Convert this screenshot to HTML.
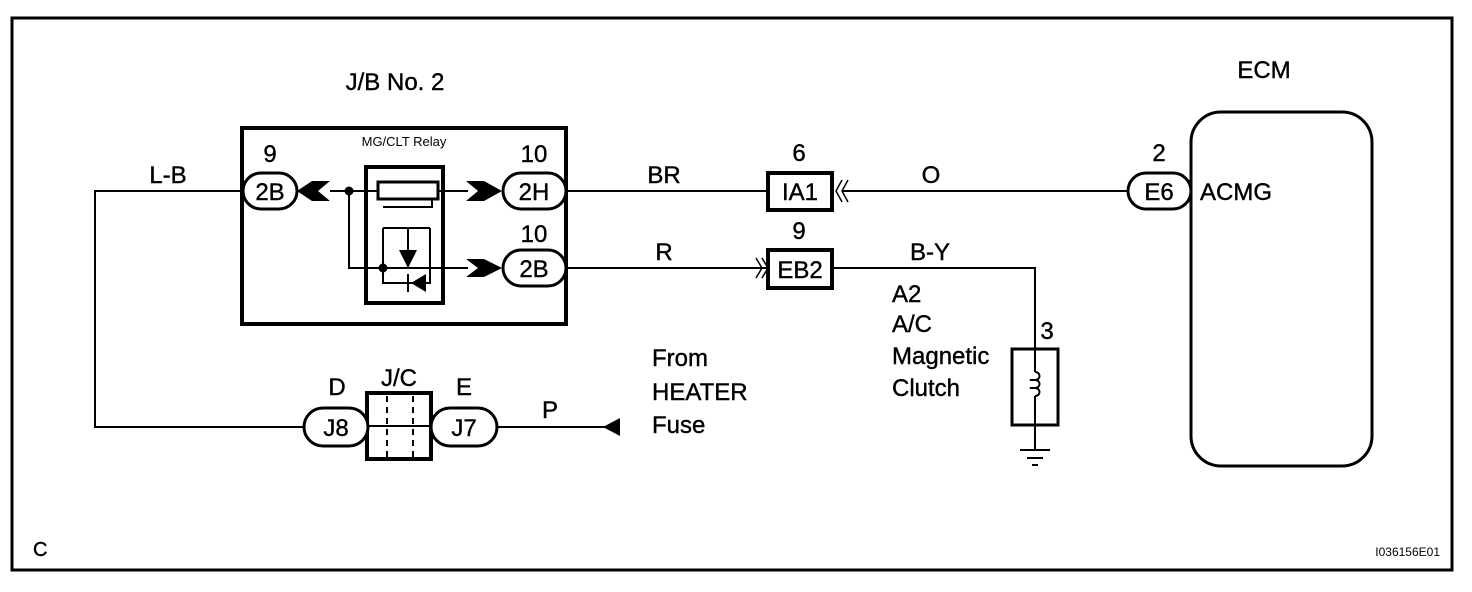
<!DOCTYPE html>
<html><head><style>html,body{margin:0;padding:0;background:#fff}svg{display:block}</style></head>
<body>
<svg width="1472" height="592" viewBox="0 0 1472 592" xmlns="http://www.w3.org/2000/svg" font-family="Liberation Sans, Arial, sans-serif" fill="none" stroke="#000">
<rect x="12" y="18" width="1440" height="552" stroke-width="3"/>
<rect x="242" y="128" width="324" height="196" stroke-width="4"/>
<rect x="366" y="167" width="77" height="136" stroke-width="4"/>
<polyline points="243,191 95,191 95,427 304,427" stroke-width="2"/>
<line x1="330" y1="191" x2="377" y2="191" stroke-width="2"/>
<line x1="438" y1="191" x2="468" y2="191" stroke-width="2"/>
<rect x="378" y="182" width="60" height="17" stroke-width="3"/>
<polyline points="383,207 432,207 432,199" stroke-width="2"/>
<circle cx="349" cy="191" r="4" fill="#000"/>
<polyline points="349,191 349,268 468,268" stroke-width="2"/>
<circle cx="383" cy="268" r="4" fill="#000"/>
<polyline points="383,228 383,283 430,283 430,228" stroke-width="2"/>
<line x1="383" y1="228" x2="430" y2="228" stroke-width="2"/>
<line x1="408" y1="228" x2="408" y2="250" stroke-width="2"/>
<polygon points="399,250 417,250 408,268" fill="#000" stroke="none"/>
<polygon points="426,274 426,292 411,283" fill="#000" stroke="none"/>
<line x1="408" y1="274" x2="408" y2="292" stroke-width="2"/>
<polygon points="297,191 312,181 330,181 318,191 330,201 312,201" fill="#000" stroke="none"/>
<polygon points="466,181 484,181 502,191 484,201 466,201 478,191" fill="#000" stroke="none"/>
<polygon points="466,259 484,259 502,268 484,277 466,277 478,268" fill="#000" stroke="none"/>
<rect x="243" y="173" width="54" height="36" rx="18" fill="#fff" stroke-width="3"/>
<rect x="503" y="173" width="63" height="36" rx="18" fill="#fff" stroke-width="3"/>
<rect x="503" y="250" width="63" height="36" rx="18" fill="#fff" stroke-width="3"/>
<line x1="566" y1="191" x2="768" y2="191" stroke-width="2"/>
<line x1="566" y1="268" x2="766" y2="268" stroke-width="2"/>
<rect x="768" y="173" width="64" height="37" stroke-width="4"/>
<polyline points="842,180 836,191 842,202" stroke-width="1.5"/>
<polyline points="848,180 842,191 848,202" stroke-width="1.5"/>
<line x1="842" y1="191" x2="1128" y2="191" stroke-width="2"/>
<rect x="768" y="250" width="64" height="38" stroke-width="4"/>
<polyline points="756,258 762,268 756,278" stroke-width="1.5"/>
<polyline points="762,258 768,268 762,278" stroke-width="1.5"/>
<polyline points="832,268 1035,268 1035,349" stroke-width="2"/>
<rect x="1012" y="349" width="46" height="76" stroke-width="3"/>
<line x1="1035" y1="349" x2="1035" y2="372" stroke-width="2"/>
<path d="M1035,372 c6,0 6,8 0,8 c-6,0 -6,0 0,0 c6,0 6,8 0,8 c-6,0 -6,0 0,0 c6,0 6,8 0,8" stroke-width="2"/>
<line x1="1035" y1="396" x2="1035" y2="450" stroke-width="2"/>
<line x1="1020" y1="450" x2="1050" y2="450" stroke-width="2"/>
<line x1="1027" y1="458" x2="1043" y2="458" stroke-width="2"/>
<line x1="1032" y1="465" x2="1038" y2="465" stroke-width="2"/>
<rect x="1191" y="112" width="181" height="354" rx="30" stroke-width="3"/>
<rect x="1128" y="173" width="63" height="36" rx="18" fill="#fff" stroke-width="3"/>
<rect x="367" y="393" width="64" height="66" stroke-width="4"/>
<line x1="367" y1="426" x2="431" y2="426" stroke-width="2"/>
<line x1="387" y1="396" x2="387" y2="457" stroke-width="2" stroke-dasharray="6,5"/>
<line x1="413" y1="396" x2="413" y2="457" stroke-width="2" stroke-dasharray="6,5"/>
<rect x="304" y="408" width="64" height="38" rx="19" fill="#fff" stroke-width="3"/>
<rect x="431" y="408" width="66" height="38" rx="19" fill="#fff" stroke-width="3"/>
<line x1="497" y1="427" x2="620" y2="427" stroke-width="2"/>
<polygon points="603,427 620,418 620,436" fill="#000" stroke="none"/>
<g fill="#000" stroke="#000" stroke-width="0.4" font-size="24">
<text x="395" y="90" text-anchor="middle">J/B No. 2</text>
<text x="404" y="146" text-anchor="middle" font-size="13" stroke="none">MG/CLT Relay</text>
<text x="270" y="162" text-anchor="middle">9</text>
<text x="270" y="200" text-anchor="middle">2B</text>
<text x="534" y="162" text-anchor="middle">10</text>
<text x="534" y="200" text-anchor="middle">2H</text>
<text x="534" y="242" text-anchor="middle">10</text>
<text x="534" y="277" text-anchor="middle">2B</text>
<text x="168" y="183" text-anchor="middle">L-B</text>
<text x="664" y="183" text-anchor="middle">BR</text>
<text x="664" y="260" text-anchor="middle">R</text>
<text x="799" y="161" text-anchor="middle">6</text>
<text x="800" y="200" text-anchor="middle">IA1</text>
<text x="799" y="239" text-anchor="middle">9</text>
<text x="800" y="278" text-anchor="middle">EB2</text>
<text x="931" y="183" text-anchor="middle">O</text>
<text x="930" y="260" text-anchor="middle">B-Y</text>
<text x="892" y="302">A2</text>
<text x="892" y="332">A/C</text>
<text x="892" y="364">Magnetic</text>
<text x="892" y="396">Clutch</text>
<text x="1047" y="339" text-anchor="middle">3</text>
<text x="1159" y="161" text-anchor="middle">2</text>
<text x="1159" y="200" text-anchor="middle">E6</text>
<text x="1200" y="200">ACMG</text>
<text x="1264" y="78" text-anchor="middle">ECM</text>
<text x="337" y="395" text-anchor="middle">D</text>
<text x="399" y="386" text-anchor="middle">J/C</text>
<text x="464" y="395" text-anchor="middle">E</text>
<text x="336" y="436" text-anchor="middle">J8</text>
<text x="464" y="436" text-anchor="middle">J7</text>
<text x="550" y="418" text-anchor="middle">P</text>
<text x="652" y="366">From</text>
<text x="652" y="400">HEATER</text>
<text x="652" y="433">Fuse</text>
<text x="33" y="556" font-size="20">C</text>
<text x="1440" y="556" text-anchor="end" font-size="12" stroke="none">I036156E01</text>
</g>
</svg>
</body></html>
